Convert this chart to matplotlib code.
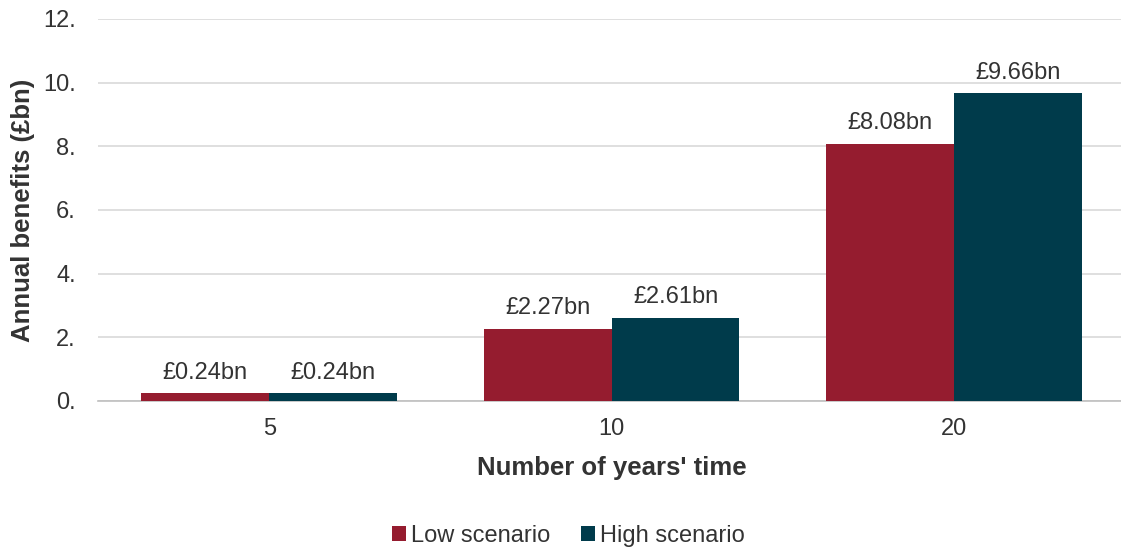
import matplotlib.pyplot as plt
import numpy as np
from matplotlib.ticker import FuncFormatter

plt.rcParams['font.family'] = ['Liberation Sans', 'DejaVu Sans']

years = ['5', '10', '20']
low_scenario = [0.24, 2.27, 8.08]
high_scenario = [0.24, 2.61, 9.66]
series_names = ['Low scenario', 'High scenario']

RED = '#951c2f'
TEAL = '#003b4b'
TXT = '#333333'

fig = plt.figure(figsize=(11.21, 5.52), dpi=100)
ax = fig.add_axes([0.0874, 0.2736, 0.9166, 0.692])

x = np.arange(len(years))
w = 0.373
b1 = ax.bar(x - w / 2, low_scenario, w, color=RED, label=series_names[0], zorder=3)
b2 = ax.bar(x + w / 2, high_scenario, w, color=TEAL, label=series_names[1], zorder=3)

for bars, vals in ((b1, low_scenario), (b2, high_scenario)):
    for r, v in zip(bars, vals):
        ax.annotate(f'£{v:.2f}bn', (r.get_x() + r.get_width() / 2, v),
                    xytext=(0, 7), textcoords='offset points',
                    ha='center', va='bottom', fontsize=17, color=TXT)

ax.set_xlim(-0.5, 2.5)
ax.set_ylim(0, 12)
ax.set_yticks(np.arange(0, 13, 2))
ax.yaxis.set_major_formatter(FuncFormatter(lambda v, p: f'{v:.0f}.'))
ax.set_xticks(x)
ax.set_xticklabels(years)
ax.tick_params(axis='both', length=0, labelsize=17, colors=TXT)
ax.tick_params(axis='y', pad=16)
ax.tick_params(axis='x', pad=12)
ax.grid(axis='y', color='#d9d9d9', linewidth=1.2, zorder=0)
for s in ('top', 'right', 'left'):
    ax.spines[s].set_visible(False)
ax.spines['bottom'].set_color('#bfbfbf')
ax.spines['bottom'].set_linewidth(1.2)

ax.set_xlabel("Number of years' time", fontsize=18.5, fontweight='bold', color=TXT, labelpad=12)
ax.set_ylabel('Annual benefits (£bn)', fontsize=18.5, fontweight='bold', color=TXT, labelpad=6)

fig.legend(loc='lower center', bbox_to_anchor=(0.507, -0.03), ncol=2, frameon=False,
           fontsize=17, handlelength=0.6, handleheight=0.6, handletextpad=0.2,
           columnspacing=1.3, labelcolor=TXT)

fig.savefig('out.png', dpi=100)
